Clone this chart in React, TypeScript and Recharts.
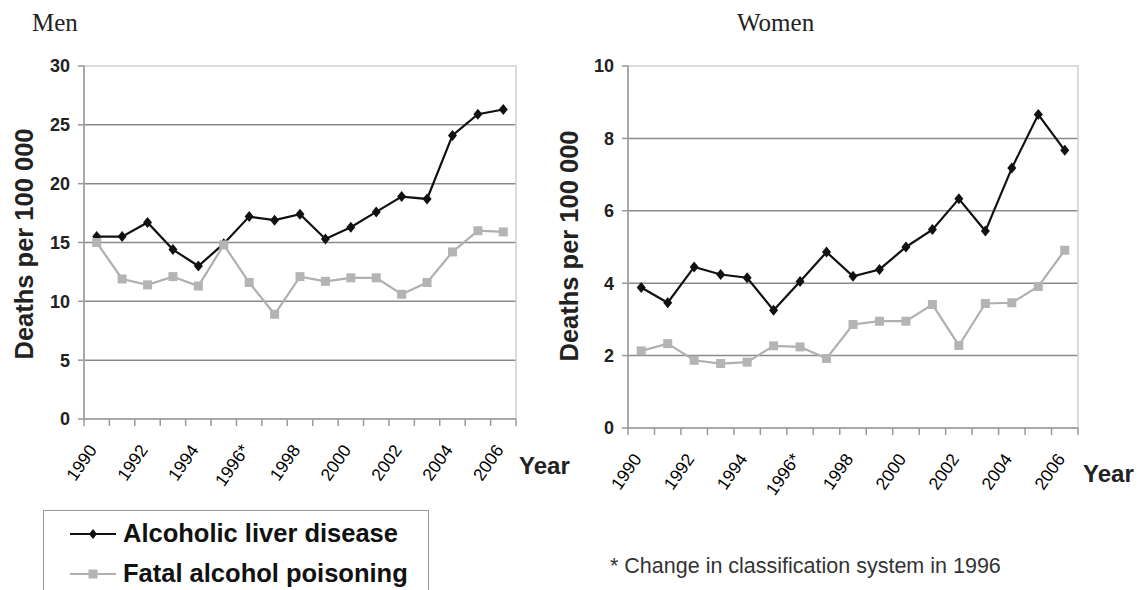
import React from 'react';
import { LineChart, Line, XAxis, YAxis, CartesianGrid, ReferenceArea } from 'recharts';

// values, deaths per 100 000
const years = [1990, 1991, 1992, 1993, 1994, 1995, 1996, 1997, 1998, 1999, 2000, 2001, 2002, 2003, 2004, 2005, 2006];
const menLiver = [15.5, 15.5, 16.7, 14.4, 13.0, 14.9, 17.2, 16.9, 17.4, 15.3, 16.3, 17.6, 18.9, 18.7, 24.1, 25.9, 26.3];
const menPoison = [15.0, 11.9, 11.4, 12.1, 11.3, 14.8, 11.6, 8.9, 12.1, 11.7, 12.0, 12.0, 10.6, 11.6, 14.2, 16.0, 15.9];
const womenLiver = [3.88, 3.46, 4.45, 4.24, 4.15, 3.25, 4.05, 4.86, 4.19, 4.38, 5.0, 5.48, 6.33, 5.44, 7.18, 8.66, 7.67];
const womenPoison = [2.13, 2.33, 1.87, 1.78, 1.82, 2.27, 2.24, 1.92, 2.86, 2.95, 2.95, 3.41, 2.28, 3.44, 3.46, 3.91, 4.91];

const labelYears = [1990, 1992, 1994, 1996, 1998, 2000, 2002, 2004, 2006];
const yearTickLabels = ['1990', '1992', '1994', '1996*', '1998', '2000', '2002', '2004', '2006'];
const menTicks = [0, 5, 10, 15, 20, 25, 30];
const womenTicks = [0, 2, 4, 6, 8, 10];
const seriesNames = ['Alcoholic liver disease', 'Fatal alcohol poisoning'];

const SANS = '"Liberation Sans", Arial, sans-serif';
const SERIF = '"Liberation Serif", "Times New Roman", serif';

const menData = years.map((year, i) => ({ year, liver: menLiver[i], poison: menPoison[i] }));
const womenData = years.map((year, i) => ({ year, liver: womenLiver[i], poison: womenPoison[i] }));

// tick marks sit on the category boundaries, labels on the even years
const boundaries = years.map((y) => y - 0.5).concat(years[years.length - 1] + 0.5);
const xTicks = [...boundaries, ...labelYears].sort((a, b) => a - b);

const YearTick = (props: any) => {
  const { x, y, payload } = props;
  const v = payload.value;
  if (!Number.isInteger(v)) {
    return <line x1={x} x2={x} y1={y} y2={y + 7} stroke="#999" strokeWidth={1.5} />;
  }
  const label = yearTickLabels[labelYears.indexOf(v)];
  const tx = x + 1;
  const ty = y + 31;
  return (
    <text x={tx} y={ty} transform={`rotate(-55 ${tx} ${ty})`} textAnchor="end"
      fontSize={17.5} fill="#000" fontFamily={SANS}>
      {label}
    </text>
  );
};

const Diamond = (props: any) => {
  const { cx, cy, index } = props;
  return <path key={`d${index}`} d={`M${cx},${cy - 5.5}L${cx + 4.5},${cy}L${cx},${cy + 5.5}L${cx - 4.5},${cy}Z`} fill="#111" />;
};

const Square = (props: any) => {
  const { cx, cy, index } = props;
  return <rect key={`s${index}`} x={cx - 4.5} y={cy - 4.5} width={9} height={9} fill="#b4b4b4" />;
};

type PanelProps = {
  data: any[];
  ticks: number[];
  width: number;
  height: number;
  top: number;
  right: number;
  xHeight: number;
  yWidth: number;
};

const Panel = ({ data, ticks, width, height, top, right, xHeight, yWidth }: PanelProps) => {
  const yMax = ticks[ticks.length - 1];
  return (
    <LineChart width={width} height={height} data={data} margin={{ top, right, bottom: 0, left: 0 }}>
      <CartesianGrid vertical={false} horizontalValues={ticks.slice(1, -1)} stroke="#8a8a8a" strokeWidth={1.5} />
      <ReferenceArea x1={1989.5} x2={2006.5} y1={0} y2={yMax} fill="none" stroke="#cfcfcf" strokeWidth={1.5} />
      <XAxis type="number" dataKey="year" domain={[1989.5, 2006.5]} ticks={xTicks} interval={0}
        tick={<YearTick />} tickLine={false} tickSize={0} tickMargin={0}
        axisLine={{ stroke: '#999', strokeWidth: 1.5 }} height={xHeight} />
      <YAxis type="number" domain={[0, yMax]} ticks={ticks} interval={0} width={yWidth}
        tickSize={6} tickMargin={8} tickLine={{ stroke: '#999', strokeWidth: 1.5 }}
        axisLine={{ stroke: '#999', strokeWidth: 1.5 }}
        tick={{ fontSize: 18, fontWeight: 'bold', fill: '#222', fontFamily: SANS }} />
      <Line dataKey="liver" stroke="#111" strokeWidth={2.2} dot={Diamond} activeDot={false} isAnimationActive={false} />
      <Line dataKey="poison" stroke="#b0b0b0" strokeWidth={2.2} dot={Square} activeDot={false} isAnimationActive={false} />
    </LineChart>
  );
};

const abs = (style: React.CSSProperties): React.CSSProperties => ({ position: 'absolute', whiteSpace: 'nowrap', ...style });

const yTitle: React.CSSProperties = {
  fontFamily: SANS, fontWeight: 'bold', fontSize: 25.5, color: '#222',
  transform: 'translate(-50%, -50%) rotate(-90deg)',
};

export default function App() {
  return (
    <div style={{ position: 'absolute', left: 0, top: 0, width: 1140, height: 590, background: '#fff', overflow: 'hidden' }}>
      <div style={abs({ left: 0, top: 0 })}>
        <Panel data={menData} ticks={menTicks} width={560} height={500} top={66} right={44} xHeight={81} yWidth={84} />
      </div>
      <div style={abs({ left: 560, top: 0 })}>
        <Panel data={womenData} ticks={womenTicks} width={580} height={510} top={66} right={62} xHeight={82} yWidth={68} />
      </div>

      <div style={abs({ left: 32, top: 9, fontFamily: SERIF, fontSize: 25, color: '#222' })}>Men</div>
      <div style={abs({ left: 737, top: 9, fontFamily: SERIF, fontSize: 25, color: '#222' })}>Women</div>

      <div style={abs({ left: 24, top: 244, ...yTitle })}>Deaths per 100 000</div>
      <div style={abs({ left: 569, top: 246, ...yTitle })}>Deaths per 100 000</div>

      <div style={abs({ left: 519, top: 452, fontFamily: SANS, fontWeight: 'bold', fontSize: 24, color: '#222' })}>Year</div>
      <div style={abs({ left: 1083, top: 460, fontFamily: SANS, fontWeight: 'bold', fontSize: 24, color: '#222' })}>Year</div>

      <div style={abs({ left: 43, top: 510, width: 386, height: 100, border: '1.5px solid #9a9a9a', boxSizing: 'border-box' })}>
        {seriesNames.map((name, i) => (
          <div key={name} style={abs({ left: 26, top: 8 + i * 40, display: 'flex', alignItems: 'center' })}>
            <svg width={48} height={20}>
              <line x1={0} x2={46} y1={10} y2={10} stroke={i === 0 ? '#111' : '#b0b0b0'} strokeWidth={2} />
              {i === 0
                ? <path d="M23,5L27,10L23,15L19,10Z" fill="#111" />
                : <rect x={18.5} y={5.5} width={9} height={9} fill="#b4b4b4" />}
            </svg>
            <span style={{ marginLeft: 5, fontFamily: SANS, fontWeight: 'bold', fontSize: 25.5, color: '#111' }}>{name}</span>
          </div>
        ))}
      </div>

      <div style={abs({ left: 610, top: 554, fontFamily: SANS, fontSize: 21.5, color: '#333' })}>* Change in classification system in 1996</div>
    </div>
  );
}
